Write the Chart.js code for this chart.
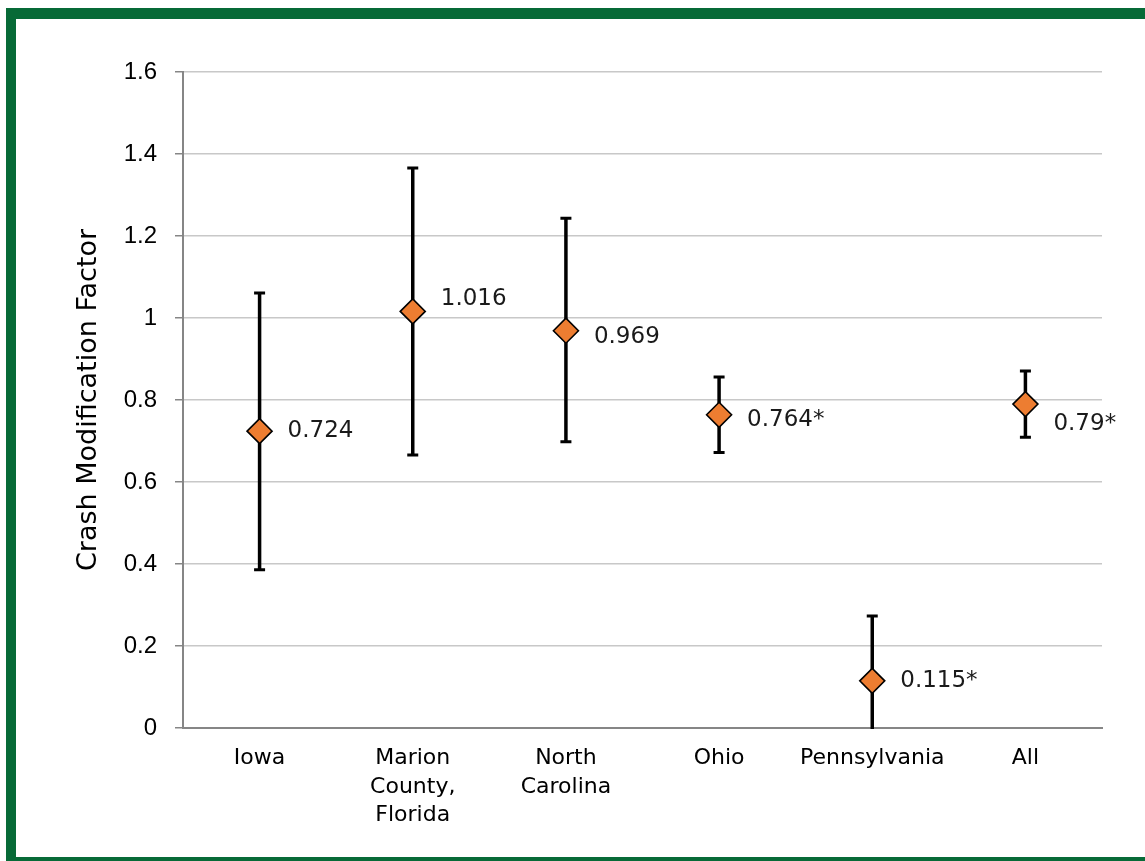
<!DOCTYPE html>
<html><head><meta charset="utf-8">
<script src="https://cdn.jsdelivr.net/npm/chart.js@4.4.0/dist/chart.umd.min.js"></script>
<style>
html,body{margin:0;padding:0;background:#fff;overflow:hidden;}
#frame{position:absolute;left:6px;top:8px;width:1300px;height:838px;border-top:11px solid #076a37;border-left:10px solid #076a37;border-bottom:11px solid #076a37;}
#wrap{position:absolute;left:0;top:0;width:1145px;height:861px;}
</style></head><body>
<div id="frame"></div>
<div id="wrap"><canvas id="c" width="1145" height="861"></canvas></div>
<script>
const categories = [["Iowa"], ["Marion", "County,", "Florida"], ["North", "Carolina"], ["Ohio"], ["Pennsylvania"], ["All"]];
const cmfValues = [0.724, 1.016, 0.969, 0.764, 0.115, 0.79];
const lowerBounds = [0.386, 0.666, 0.698, 0.672, -0.04, 0.709];
const upperBounds = [1.061, 1.366, 1.243, 0.856, 0.273, 0.871];
const valueLabels = ["0.724", "1.016", "0.969", "0.764*", "0.115*", "0.79*"];
const yTickValues = [0, 0.2, 0.4, 0.6, 0.8, 1, 1.2, 1.4, 1.6];

const errorBars = {
  id: 'errorBars',
  beforeDatasetsDraw(chart, args, opts) {
    const {ctx, chartArea, scales: {x, y}} = chart;
    ctx.save();
    ctx.beginPath();
    ctx.rect(chartArea.left, chartArea.top, chartArea.width, chartArea.height + 1);
    ctx.clip();
    ctx.strokeStyle = opts.color;
    ctx.lineCap = 'butt';
    cmfValues.forEach((v, i) => {
      const px = x.getPixelForValue(i);
      const top = y.getPixelForValue(upperBounds[i]);
      const bot = y.getPixelForValue(lowerBounds[i]);
      ctx.lineWidth = opts.width;
      ctx.beginPath();
      ctx.moveTo(px, top);
      ctx.lineTo(px, bot);
      ctx.stroke();
      ctx.lineWidth = opts.capThickness;
      ctx.beginPath();
      ctx.moveTo(px - opts.capHalf, top);
      ctx.lineTo(px + opts.capHalf, top);
      ctx.moveTo(px - opts.capHalf, bot);
      ctx.lineTo(px + opts.capHalf, bot);
      ctx.stroke();
    });
    ctx.restore();
  }
};

const valueLabelPlugin = {
  id: 'valueLabels',
  afterDatasetsDraw(chart, args, opts) {
    const {ctx} = chart;
    const meta = chart.getDatasetMeta(0);
    ctx.save();
    ctx.font = opts.font;
    ctx.fillStyle = opts.color;
    ctx.textAlign = 'left';
    ctx.textBaseline = 'middle';
    meta.data.forEach((pt, i) => {
      ctx.fillText(valueLabels[i], pt.x + opts.dx, pt.y + opts.dy[i]);
    });
    ctx.restore();
  }
};

new Chart(document.getElementById('c'), {
  type: 'line',
  data: {
    labels: categories,
    datasets: [{
      data: cmfValues,
      showLine: false,
      pointStyle: 'rectRot',
      pointRadius: 12.5,
      pointHoverRadius: 12.5,
      pointBackgroundColor: '#ED7D31',
      pointBorderColor: '#000000',
      pointBorderWidth: 1.6
    }]
  },
  options: {
    responsive: false,
    animation: false,
    events: [],
    layout: {padding: {top: 72, right: 43, left: 0, bottom: 0}},
    plugins: {
      legend: {display: false},
      tooltip: {enabled: false},
      errorBars: {color: '#000', width: 3.5, capThickness: 3, capHalf: 5.5},
      valueLabels: {font: '23px "DejaVu Sans"', color: '#1a1a1a', dx: 28, dy: [0, -12, 6, 5, 0, 20]}
    },
    scales: {
      x: {
        type: 'category',
        offset: true,
        grid: {display: false, drawTicks: false},
        border: {display: true, color: '#868686', width: 2},
        ticks: {
          font: {family: 'DejaVu Sans', size: 22, lineHeight: 1.3},
          color: '#000',
          padding: 16,
          maxRotation: 0,
          autoSkip: false
        },
        afterFit(scale) { scale.height = 133; }
      },
      y: {
        min: 0,
        max: 1.6,
        afterBuildTicks(scale) { scale.ticks = yTickValues.map(v => ({value: v})); },
        grid: {color: '#c8c8c8', lineWidth: 1.5, tickColor: '#868686', tickLength: 8, drawTicks: true},
        border: {display: true, color: '#868686', width: 2},
        ticks: {
          font: {family: 'Liberation Sans', size: 24},
          color: '#000',
          padding: 18,
          callback: v => String(v)
        },
        title: {
          display: true,
          text: 'Crash Modification Factor',
          font: {family: 'DejaVu Sans', size: 27},
          color: '#000',
          padding: {top: 73, bottom: 0}
        },
        afterFit(scale) { scale.width = 183; }
      }
    }
  },
  plugins: [errorBars, valueLabelPlugin]
});
</script>
</body></html>
